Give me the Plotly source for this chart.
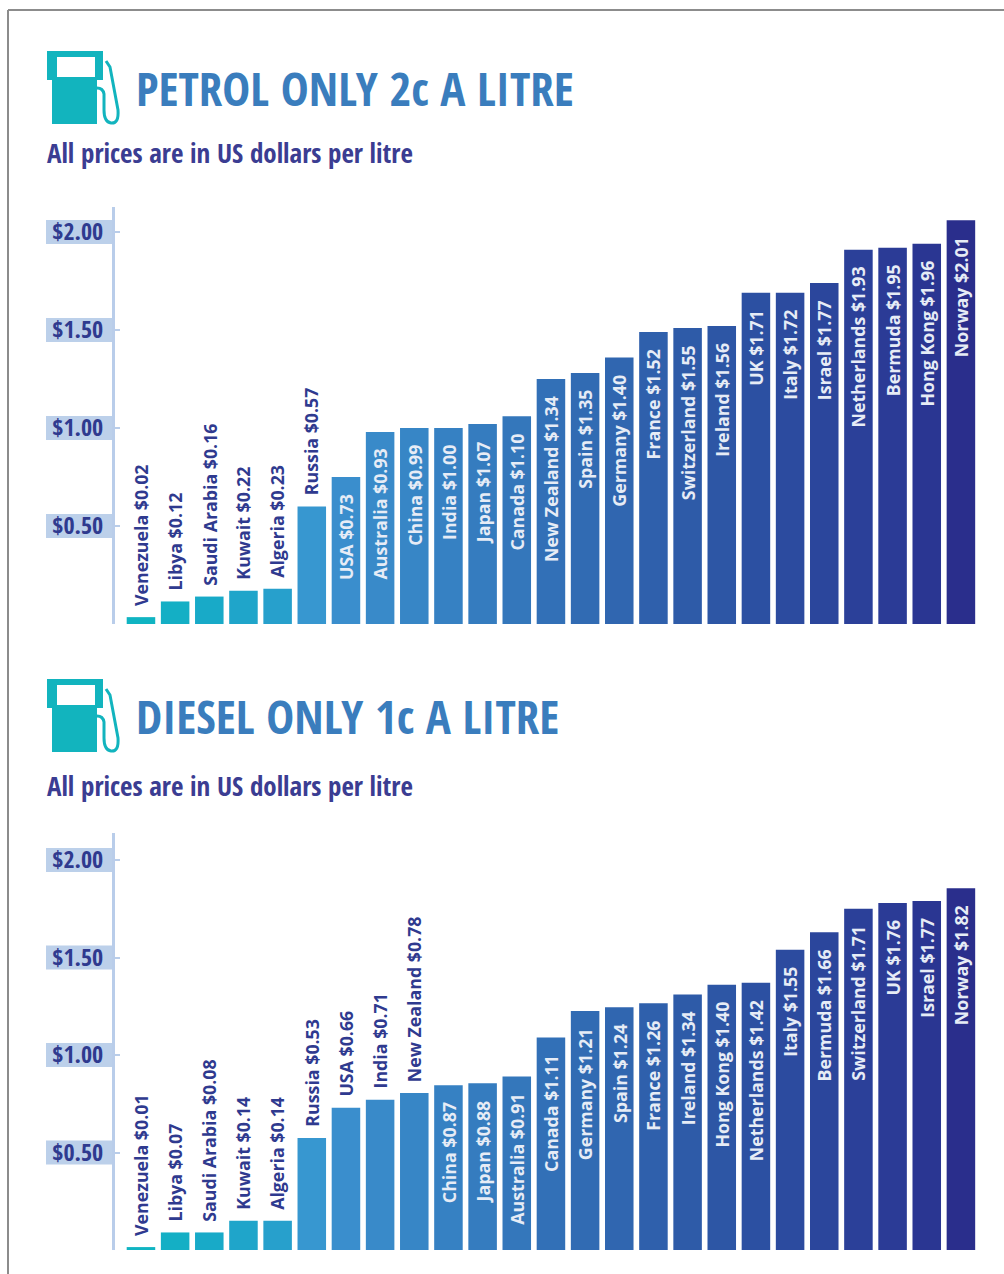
import plotly.graph_objects as go

W, H = 1004, 1274
FONT = "Open Sans Condensed"
LABEL_FONT = "Open Sans"

petrol_labels = ["Venezuela $0.02","Libya $0.12","Saudi Arabia $0.16","Kuwait $0.22","Algeria $0.23","Russia $0.57","USA $0.73","Australia $0.93","China $0.99","India $1.00","Japan $1.07","Canada $1.10","New Zealand $1.34","Spain $1.35","Germany $1.40","France $1.52","Switzerland $1.55","Ireland $1.56","UK $1.71","Italy $1.72","Israel $1.77","Netherlands $1.93","Bermuda $1.95","Hong Kong $1.96","Norway $2.01"]
petrol_heights = [0.035,0.115,0.14,0.17,0.18,0.60,0.75,0.98,1.00,1.00,1.02,1.06,1.25,1.28,1.36,1.49,1.51,1.52,1.69,1.69,1.74,1.91,1.92,1.94,2.06]
petrol_outside = 6

diesel_labels = ["Venezuela $0.01","Libya $0.07","Saudi Arabia $0.08","Kuwait $0.14","Algeria $0.14","Russia $0.53","USA $0.66","India $0.71","New Zealand $0.78","China $0.87","Japan $0.88","Australia $0.91","Canada $1.11","Germany $1.21","Spain $1.24","France $1.26","Ireland $1.34","Hong Kong $1.40","Netherlands $1.42","Italy $1.55","Bermuda $1.66","Switzerland $1.71","UK $1.76","Israel $1.77","Norway $1.82"]
diesel_heights = [0.015,0.09,0.09,0.15,0.15,0.575,0.73,0.77,0.805,0.845,0.855,0.89,1.09,1.225,1.245,1.265,1.31,1.36,1.37,1.54,1.63,1.75,1.78,1.79,1.855]
diesel_outside = 9

bar_colors = ["#10b4c2","#14afc5","#18aac8","#1fa5ca","#27a0cc","#3797d0","#3a8ecd","#398ac9","#3786c6","#3681c3","#357cbf","#3477bb","#3270b7","#316bb3","#3066b0","#2f60ac","#2e5ba8","#2d56a5","#2c50a2","#2c4b9f","#2b469c","#2b4099","#2b3b96","#2a3692","#2a2e8c"]

tick_vals = [0.5, 1.0, 1.5, 2.0]
tick_text = ["$0.50", "$1.00", "$1.50", "$2.00"]

INNER = "#e6ecf6"
OUTER = "#2f3a8f"
AXIS = "#b9cdea"
BAND = "#bcd0ea"
TEAL = "#12b4be"

def px(x): return x / W
def py(y): return 1 - y / H

fig = go.Figure()
annotations, shapes = [], []

def path(cmds, top):
    out = []
    for c in cmds:
        out.append(c if isinstance(c, str) else f"{px(c[0]):.5f},{py(top + c[1]):.5f}")
    return " ".join(out)

def panel(suffix, labels, heights, n_out, y_top, y_zero, per_unit, title, title_y, sub_y, t):
    xa, ya = "xaxis" + suffix, "yaxis" + suffix
    xr, yr = "x" + suffix, "y" + suffix
    fig.add_trace(go.Bar(x=list(range(25)), y=heights, marker=dict(color=bar_colors, line=dict(width=0)),
                         width=0.835, xaxis=xr, yaxis=yr, showlegend=False,
                         hovertext=labels, hoverinfo="text"))
    fig.update_layout({
        xa: dict(domain=[px(115), px(978)], range=[-0.76, 24.5], visible=False, fixedrange=True),
        ya: dict(domain=[py(y_zero), py(y_top)], range=[0, (y_zero - y_top) / per_unit],
                 tickvals=tick_vals, ticktext=tick_text, ticks="inside", ticklen=5, tickwidth=2,
                 tickcolor=AXIS, showline=True, linecolor=AXIS, linewidth=3, showgrid=False,
                 zeroline=False, fixedrange=True, anchor=xr,
                 tickfont=dict(family=FONT, size=24, color="#2f3a8f", weight="bold"), ticklabelstandoff=4),
    })
    for v in tick_vals:
        shapes.append(dict(type="rect", xref="paper", yref=yr, layer="below", x0=px(46), x1=px(113),
                           y0=v - 12 / per_unit, y1=v + 12 / per_unit, fillcolor=BAND, line=dict(width=0)))
    for i, (lab, h) in enumerate(zip(labels, heights)):
        inside = i >= n_out
        annotations.append(dict(x=i, y=h, xref=xr, yref=yr, text=lab, textangle=-90, showarrow=False,
                                xanchor="center", yanchor="top" if inside else "bottom",
                                yshift=-15 if inside else 9,
                                font=dict(family=LABEL_FONT, size=17.8, color=INNER if inside else OUTER, weight="bold")))
    annotations.append(dict(x=px(134), y=py(title_y), xref="paper", yref="paper", text=title, showarrow=False,
                            xanchor="left", yanchor="middle",
                            font=dict(family=FONT, size=47, color="#3a7dbd", weight="bold")))
    annotations.append(dict(x=px(45), y=py(sub_y), xref="paper", yref="paper", text="All prices are in US dollars per litre",
                            showarrow=False, xanchor="left", yanchor="middle",
                            font=dict(family=FONT, size=27, color="#3b3d92", weight="bold")))
    head = ["M", (47, -1), "L", (103, -1), "L", (103, 28), "L", (97, 28), "L", (97, 72), "L", (52, 72), "L", (52, 28), "L", (47, 28), "Z"]
    window = ["M", (57, 5), "L", (95, 5), "L", (95, 25), "L", (57, 25), "Z"]
    hose = ["M", (106, 9), "L", (110, 15), "L", (118, 58), "Q", (119, 72), (111, 71), "Q", (104, 70), (104, 58), "L", (104, 42), "Q", (103, 36), (97, 36)]
    shapes.append(dict(type="path", xref="paper", yref="paper", path=path(head, t), fillcolor=TEAL, line=dict(width=0)))
    shapes.append(dict(type="path", xref="paper", yref="paper", path=path(window, t), fillcolor="#ffffff", line=dict(width=0)))
    shapes.append(dict(type="path", xref="paper", yref="paper", path=path(hose, t), line=dict(color=TEAL, width=3)))

panel("", petrol_labels, petrol_heights, petrol_outside, 207, 624, 196, "PETROL ONLY 2c A LITRE", 88, 153, 52)
panel("2", diesel_labels, diesel_heights, diesel_outside, 833, 1250, 195, "DIESEL ONLY 1c A LITRE", 716, 785, 680)

shapes.append(dict(type="line", xref="paper", yref="paper", x0=px(8), x1=px(1004), y0=py(10), y1=py(10), line=dict(color="#8c8c8c", width=2)))
shapes.append(dict(type="line", xref="paper", yref="paper", x0=px(8), x1=px(8), y0=py(10), y1=py(1274), line=dict(color="#8c8c8c", width=2)))

fig.update_layout(width=W, height=H, margin=dict(l=0, r=0, t=0, b=0), paper_bgcolor="#ffffff", plot_bgcolor="rgba(0,0,0,0)",
                  annotations=annotations, shapes=shapes, showlegend=False, dragmode=False)
fig.write_html("out.html", post_script="document.body.style.margin='0';document.body.style.overflow='hidden';", config={"displayModeBar": False})
